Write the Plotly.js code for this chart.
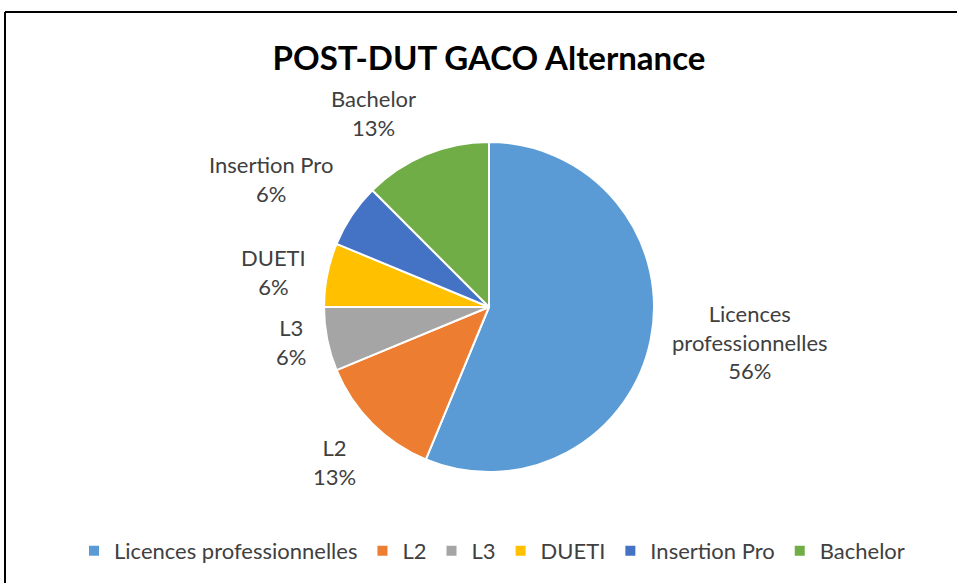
<!DOCTYPE html>
<html>
<head>
<meta charset="utf-8">
<script src="https://cdn.plot.ly/plotly-3.0.1.min.js"></script>
<style>html,body{margin:0;padding:0;background:#fff;}#chart{width:957px;height:583px;}</style>
</head>
<body>
<div id="chart"></div>
<script>
const categories = ["Licences professionnelles", "L2", "L3", "DUETI", "Insertion Pro", "Bachelor"];
const labelLines = ["Licences<br>professionnelles", "L2", "L3", "DUETI", "Insertion Pro", "Bachelor"];
const values = [9, 2, 1, 1, 1, 2];
const colors = ["#5B9BD5", "#ED7D31", "#A5A5A5", "#FFC000", "#4472C4", "#70AD47"];
const titleText = "POST-DUT GACO Alternance";

const W = 957, H = 583;
const cx = 489, cy = 307, r = 165, gapX = 20, gapY = 12;
const FONT = "Lato, 'Open Sans', sans-serif";

const total = values.reduce((a, b) => a + b, 0);

// data labels placed outside each slice, at its mid-angle (clockwise from top)
const annotations = [];
let cum = 0;
values.forEach((v, i) => {
  const mid = (cum + v / 2) / total * 2 * Math.PI;
  cum += v;
  const s = Math.sin(mid), c = Math.cos(mid);
  const px = cx + (r + gapX) * s, py = cy - (r + gapY) * c;
  annotations.push({
    xref: "paper", yref: "paper",
    x: px / W, y: 1 - py / H,
    xanchor: Math.abs(s) < 0.2 ? "center" : (s > 0 ? "left" : "right"),
    yanchor: Math.abs(c) < 0.3 ? "middle" : (c > 0 ? "bottom" : "top"),
    align: "center",
    showarrow: false,
    text: labelLines[i] + "<br>" + Math.round(v / total * 100) + "%",
    font: { family: FONT, size: 22, color: "#404040" }
  });
});

const trace = {
  type: "pie",
  labels: categories,
  values: values,
  sort: false,
  direction: "clockwise",
  rotation: 0,
  marker: { colors: colors, line: { color: "#ffffff", width: 2 } },
  textinfo: "none",
  hoverinfo: "label+percent",
  domain: { x: [(cx - r) / W, (cx + r) / W], y: [(H - cy - r) / H, (H - cy + r) / H] }
};

const layout = {
  width: W, height: H,
  margin: { l: 0, r: 0, t: 0, b: 0 },
  paper_bgcolor: "#ffffff",
  title: {
    text: "<b>" + titleText + "</b>",
    font: { family: FONT, size: 33, color: "#000000" },
    x: 489 / W, xanchor: "center", y: 1 - 58 / H, yanchor: "middle"
  },
  showlegend: true,
  legend: {
    orientation: "h",
    x: 492 / W, xanchor: "center",
    y: (H - 551) / H, yanchor: "middle",
    font: { family: FONT, size: 22, color: "#404040" },
    traceorder: "normal",
    itemwidth: 30
  },
  annotations: annotations,
  shapes: [
    { type: "line", xref: "paper", yref: "paper", x0: 5 / W, x1: 5 / W, y0: 0, y1: 1 - 12 / H, line: { color: "#000", width: 2 } },
    { type: "line", xref: "paper", yref: "paper", x0: 5 / W, x1: 1, y0: 1 - 12 / H, y1: 1 - 12 / H, line: { color: "#000", width: 2 } }
  ]
};

Plotly.newPlot("chart", [trace], layout, { displayModeBar: false, staticPlot: true });
</script>
</body>
</html>
